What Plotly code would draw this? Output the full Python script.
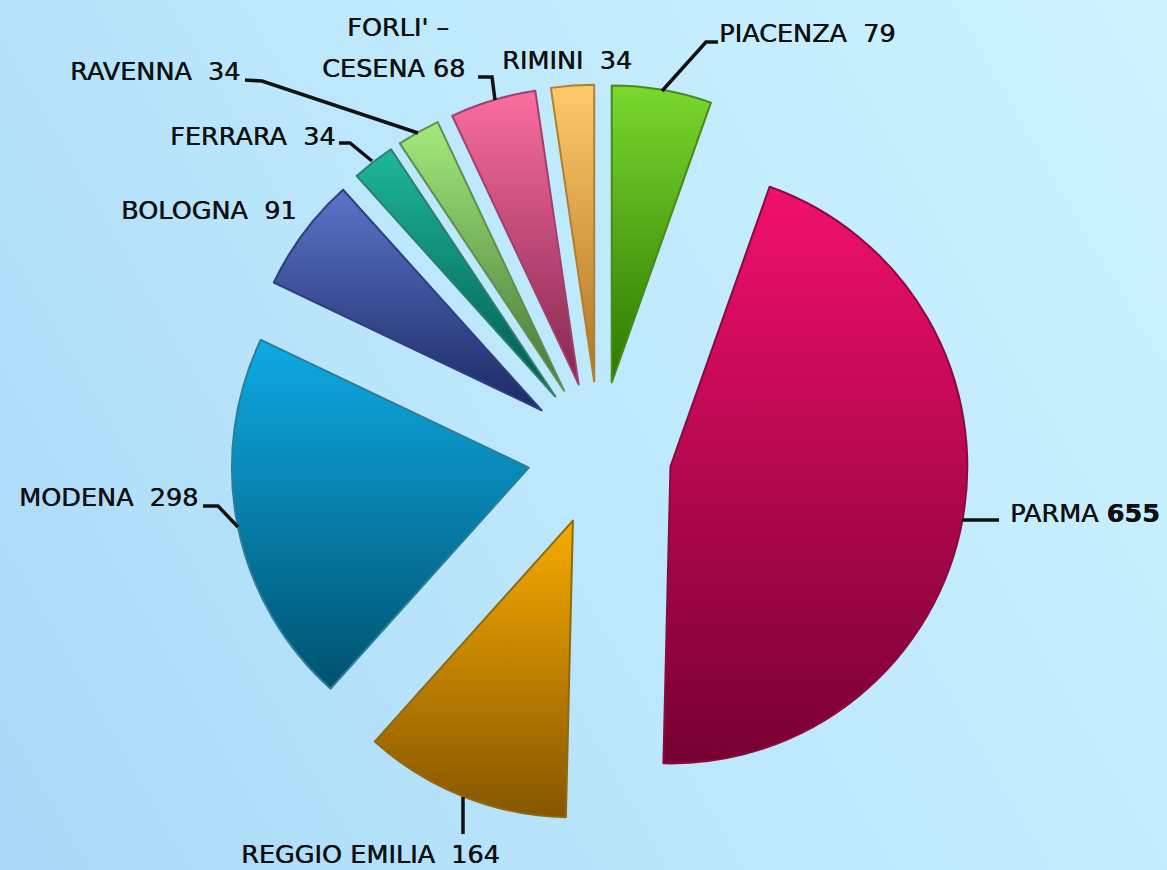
import plotly.graph_objects as go

W, H = 1167, 870

provinces = ["PIACENZA", "PARMA", "REGGIO EMILIA", "MODENA", "BOLOGNA", "FERRARA", "RAVENNA", "FORLI' - CESENA", "RIMINI"]
values = [79, 655, 164, 298, 91, 34, 34, 68, 34]
top_colors = ["#7ad82e", "#f2106c", "#f8ac00", "#0eaae4", "#5c74c8", "#1eb898", "#a4ea7c", "#fa6e9e", "#fdca6a"]
bottom_colors = ["#2c7800", "#760032", "#865600", "#00526f", "#1a2a64", "#00584c", "#457538", "#842650", "#b27424"]
edge_colors = ["#4a8a18", "#8a0a40", "#8f6a10", "#2a7f98", "#2e3f80", "#2b7f6c", "#5f8f50", "#a04070", "#b08030"]
label_texts = ["PIACENZA  79", "PARMA <b>655</b>", "REGGIO EMILIA  164", "MODENA  298", "BOLOGNA  91",
               "FERRARA  34", "RAVENNA  34", "FORLI' –", "CESENA 68", "RIMINI  34"]
label_x = [807, 1085, 370, 108, 208, 252, 155, 398, 393, 567]
label_y = [33, 513, 854, 497, 210, 136, 71, 27, 68, 60]
leaders = [
    [(662, 91), (706, 42), (718, 42)],
    [(962, 520), (999, 520)],
    [(463, 797), (463, 834)],
    [(238, 527), (218, 506), (203, 506)],
    [(418, 133), (262, 81), (245, 80)],
    [(372, 161), (350, 143), (339, 143)],
    [(495, 100), (492, 77), (478, 77)],
]


def path(pts):
    return "M " + " L ".join(f"{x / W:.5f},{1 - y / H:.5f}" for x, y in pts)


fig = go.Figure(go.Pie(
    labels=provinces,
    values=values,
    sort=False,
    direction="clockwise",
    rotation=0,
    pull=0.243,
    textinfo="none",
    hoverinfo="skip",
    marker=dict(colors=top_colors, line=dict(color=edge_colors, width=2)),
    domain=dict(x=[230.5 / W, 968.5 / W], y=[1 - 822.5 / H, 1 - 84.5 / H]),
    showlegend=False,
))

for t, x, y in zip(label_texts, label_x, label_y):
    fig.add_annotation(text=t, x=x / W, y=1 - y / H, xref="paper", yref="paper", showarrow=False,
                       xanchor="center", yanchor="middle", align="center",
                       font=dict(family="DejaVu Sans", size=25.5, color="#111111", shadow="0.5px 0 0 #111111"))

for pts in leaders:
    fig.add_shape(type="path", path=path(pts), xref="paper", yref="paper",
                  line=dict(color="#111111", width=3.5))

fig.update_layout(width=W, height=H, margin=dict(l=0, r=0, t=0, b=0),
                  paper_bgcolor="rgba(0,0,0,0)", plot_bgcolor="rgba(0,0,0,0)")

stops = ",".join(f'["{a}","{b}"]' for a, b in zip(top_colors, bottom_colors))
post = """
document.documentElement.style.height='100%%';
document.body.style.margin='0';
document.body.style.height='870px';
document.body.style.background='linear-gradient(60deg,#a9d9f7 0%%,#bce7fc 45%%,#cdf3ff 100%%)';
var gd=document.getElementsByClassName('plotly-graph-div')[0];
var svg=gd.querySelector('svg.main-svg');
var ns='http://www.w3.org/2000/svg';
var defs=svg.querySelector('defs');
var cols=[%s];
gd.querySelectorAll('g.slice path.surface').forEach(function(p,i){
  var g=document.createElementNS(ns,'linearGradient');
  g.setAttribute('id','sl'+i);g.setAttribute('x1','0');g.setAttribute('y1','0');g.setAttribute('x2','0');g.setAttribute('y2','1');
  [[0,cols[i][0]],[1,cols[i][1]]].forEach(function(s){
    var st=document.createElementNS(ns,'stop');st.setAttribute('offset',s[0]);st.setAttribute('stop-color',s[1]);g.appendChild(st);
  });
  defs.appendChild(g);
  p.style.fill='url(#sl'+i+')';
});
""" % stops

fig.write_html("out.html", post_script=post, config={"displayModeBar": False})
